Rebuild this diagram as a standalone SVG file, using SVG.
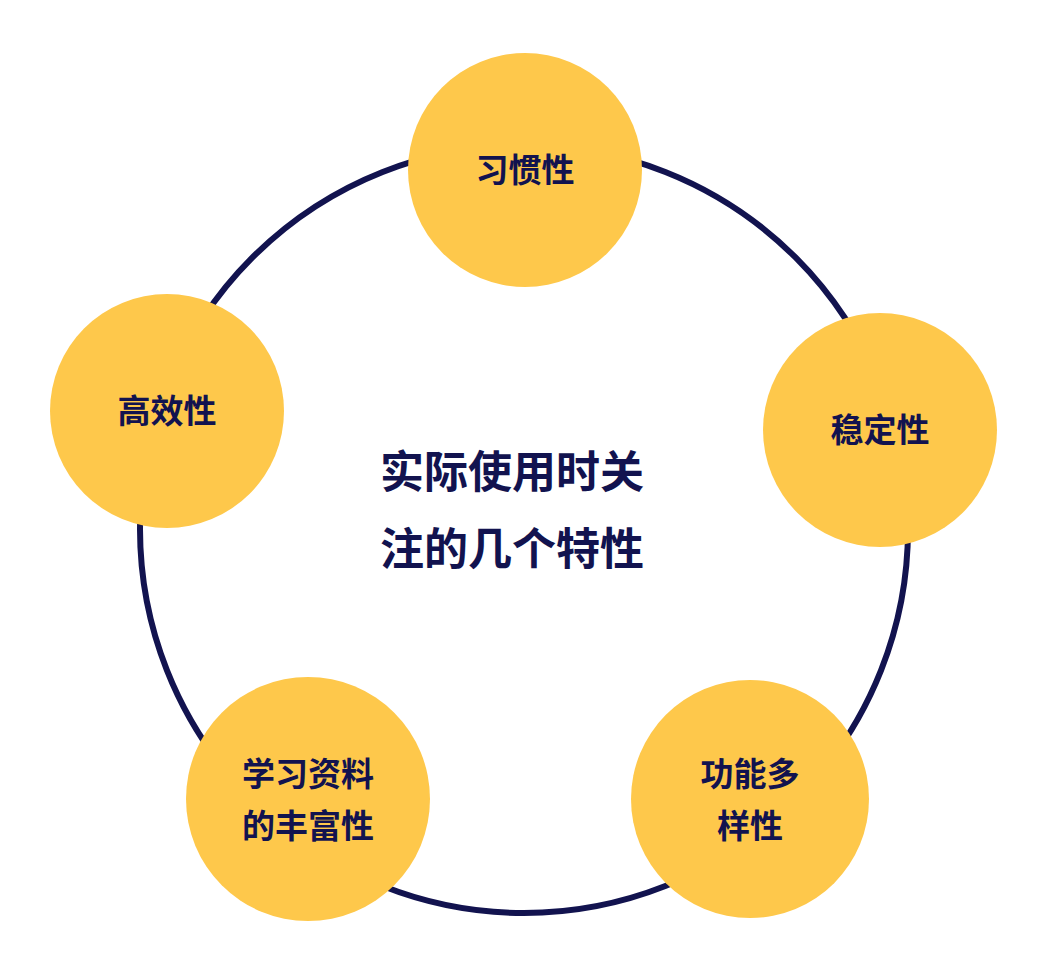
<svg xmlns="http://www.w3.org/2000/svg" width="1048" height="959" viewBox="0 0 1048 959">
<style>
.n{fill:#fec84b}
.t{font-family:"Noto Sans CJK SC",sans-serif;font-weight:bold;fill:#12134f;font-size:33px;text-anchor:middle}
.c{font-size:44px}
</style>
<rect width="1048" height="959" fill="#fff"/>
<g id="connectors"><circle cx="524" cy="529" r="384" fill="none" stroke="#12134f" stroke-width="6"/></g>
<g id="n1"><circle class="n" cx="525" cy="170" r="117"/><text class="t" x="525" y="182">习惯性</text></g>
<g id="n2"><circle class="n" cx="880" cy="430" r="117"/><text class="t" x="880" y="442">稳定性</text></g>
<g id="n3"><circle class="n" cx="750" cy="799" r="119"/><text class="t" x="750" y="786">功能多</text><text class="t" x="750" y="838">样性</text></g>
<g id="n4"><circle class="n" cx="308" cy="799" r="122"/><text class="t" x="308" y="786">学习资料</text><text class="t" x="308" y="838">的丰富性</text></g>
<g id="n5"><circle class="n" cx="167" cy="411" r="117"/><text class="t" x="167" y="423">高效性</text></g>
<g id="center"><text class="t c" x="512" y="488">实际使用时关</text><text class="t c" x="512" y="565">注的几个特性</text></g>
</svg>
